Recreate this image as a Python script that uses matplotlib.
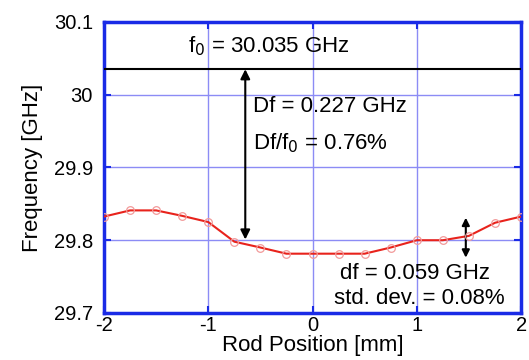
import numpy as np
import matplotlib
matplotlib.use("Agg")
import matplotlib.pyplot as plt

plt.rcParams["font.family"] = ["Liberation Sans", "DejaVu Sans"]

# rod position [mm] and measured frequency [GHz]
rod_pos = [-2, -1.75, -1.5, -1.25, -1, -0.75, -0.5, -0.25, 0,
           0.25, 0.5, 0.75, 1, 1.25, 1.5, 1.75, 2]
freq = [29.8325, 29.841, 29.841, 29.8335, 29.825, 29.798, 29.790, 29.7815, 29.7815,
        29.7815, 29.7815, 29.790, 29.800, 29.800, 29.806, 29.824, 29.8325]
f0 = 30.035

x_ticks = [-2, -1, 0, 1, 2]
y_ticks = [29.7, 29.8, 29.9, 30.0, 30.1]
y_labels = ["29.7", "29.8", "29.9", "30", "30.1"]

blue = "#1a2be6"
grid_blue = "#8c8cf5"

fig = plt.figure(figsize=(5.29, 3.6), dpi=100)
ax = fig.add_axes([0.1966, 0.1306, 0.7884, 0.8084])

ax.plot(rod_pos, freq, color="#e8231c", lw=1.5, zorder=3)
ax.plot(rod_pos, freq, "o", ms=5.5, mfc="none", mec="#f29a9a", mew=0.9, zorder=4)
ax.axhline(f0, color="black", lw=1.5, zorder=3)

ax.set_xlim(-2, 2)
ax.set_ylim(29.7, 30.1)
ax.set_xticks(x_ticks)
ax.set_xticklabels([str(v) for v in x_ticks])
ax.set_yticks(y_ticks)
ax.set_yticklabels(y_labels)
ax.grid(True, color=grid_blue, lw=1.0)
ax.tick_params(direction="in", color=blue, length=5, width=1.5,
               labelsize=14.5, top=True, right=True)
ax.tick_params(axis="y", pad=8)
ax.tick_params(axis="x", pad=2)
for s in ax.spines.values():
    s.set_color(blue)
    s.set_linewidth(2.5)

ax.set_xlabel("Rod Position [mm]", fontsize=16, labelpad=0)
ax.set_ylabel("Frequency [GHz]", fontsize=16, labelpad=8)

# big arrow between f0 and the curve
ax.annotate("", xy=(-0.645, f0), xytext=(-0.645, 29.801),
            arrowprops=dict(arrowstyle="<|-|>", color="black", lw=1.5,
                            mutation_scale=14, shrinkA=0, shrinkB=0))
# small arrow spanning the variation
ax.annotate("", xy=(1.47, 29.831), xytext=(1.47, 29.776),
            arrowprops=dict(arrowstyle="<|-|>", color="black", lw=1.5,
                            mutation_scale=11, shrinkA=0, shrinkB=0))

ax.text(-0.42, 30.066, r"f$_0$ = 30.035 GHz", fontsize=16, ha="center", va="center")
ax.text(-0.57, 29.984, "Df = 0.227 GHz", fontsize=16, ha="left", va="center")
ax.text(-0.57, 29.934, r"Df/f$_0$ = 0.76%", fontsize=16, ha="left", va="center")
ax.text(0.26, 29.754, "df = 0.059 GHz", fontsize=16, ha="left", va="center")
ax.text(0.21, 29.72, "std. dev. = 0.08%", fontsize=16, ha="left", va="center")

fig.savefig("out.png", dpi=100)
